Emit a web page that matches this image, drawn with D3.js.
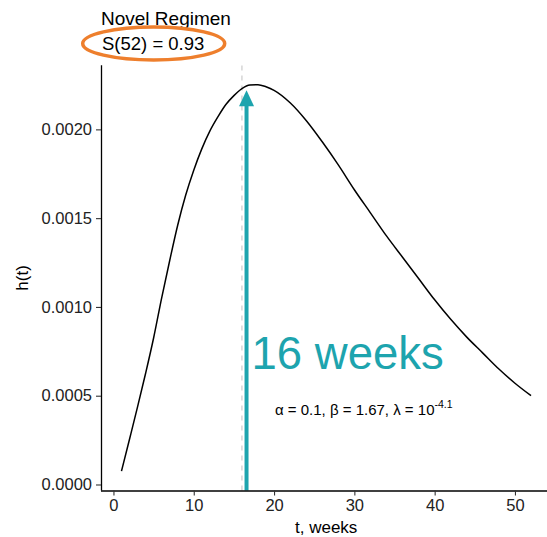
<!DOCTYPE html>
<html>
<head>
<meta charset="utf-8">
<script src="https://cdn.jsdelivr.net/npm/d3@7"></script>
<style>
  html, body { margin: 0; padding: 0; background: #fff; }
  svg { display: block; font-family: "Liberation Sans", Arial, Helvetica, sans-serif; }
</style>
</head>
<body>
<svg id="chart" width="547" height="537"></svg>
<script>
// Hazard curve h(t) over the first year, in weeks
const weeks  = [1, 2, 3, 4, 5, 6, 7, 8, 9, 10, 11, 12, 13, 14, 15, 16, 17, 18, 19, 20,
                22, 24, 26, 28, 30, 32, 34, 36, 38, 40, 42, 44, 46, 48, 50, 52];
const hazard = [0.000075, 0.000255, 0.000437, 0.000625, 0.000825, 0.00105, 0.00126, 0.00146,
                0.00163, 0.00177, 0.00189, 0.00199, 0.00207, 0.00214, 0.00219, 0.00223, 0.00225,
                0.002252, 0.00224, 0.00222,
                0.00215, 0.00205, 0.00193, 0.00180, 0.00166, 0.00153, 0.00140, 0.00128, 0.00116,
                0.00104, 0.00093, 0.00083, 0.00074, 0.00065, 0.00057, 0.00050];

const xTicks = [0, 10, 20, 30, 40, 50];
const yTicks = [0, 0.0005, 0.0010, 0.0015, 0.0020];

const markWeek = 16;          // highlighted week
const arrowTop = 0.00222;     // arrow tip height on h(t)
const titleText = "Novel Regimen";
const survivalText = "S(52) = 0.93";
const labelText = "16 weeks";

const teal = "#1DA4AE";
const orange = "#EE7F2D";

const svg = d3.select("#chart");

const tMin = d3.min(weeks), tMax = d3.max(weeks);
const tPad = (tMax - tMin) * 0.05;
const hMin = d3.min(hazard), hMax = d3.max(hazard);
const hPad = (hMax - hMin) * 0.05;

const x = d3.scaleLinear().domain([tMin - tPad, tMax + tPad]).range([101, 551.5]);
const y = d3.scaleLinear().domain([hMin - hPad, hMax + hPad]).range([490.5, 65.3]);

// dashed reference line at the highlighted week
svg.append("line")
  .attr("x1", x(markWeek)).attr("x2", x(markWeek))
  .attr("y1", y.range()[0]).attr("y2", y.range()[1])
  .attr("stroke", "#cfcfcf").attr("stroke-width", 1.3)
  .attr("stroke-dasharray", "5,5");

// hazard curve
const line = d3.line()
  .x((d, i) => x(weeks[i]))
  .y(d => y(d))
  .curve(d3.curveMonotoneX);
svg.append("path")
  .datum(hazard)
  .attr("d", line)
  .attr("fill", "none")
  .attr("stroke", "#000")
  .attr("stroke-width", 1.5);

// arrow pointing up to the curve
const ax = x(markWeek) + 4.6;
const tipY = y(arrowTop);
const headH = 16, headW = 15;
svg.append("line")
  .attr("x1", ax).attr("x2", ax)
  .attr("y1", y.range()[0]).attr("y2", tipY + headH - 1)
  .attr("stroke", teal).attr("stroke-width", 4);
svg.append("path")
  .attr("d", `M${ax},${tipY} L${ax + headW / 2},${tipY + headH} L${ax - headW / 2},${tipY + headH} Z`)
  .attr("fill", teal);

// axes
const xAxis = d3.axisBottom(x).tickValues(xTicks).tickSize(5).tickPadding(4).tickFormat(d3.format("d"));
const gx = svg.append("g").attr("transform", `translate(0,${y.range()[0]})`).call(xAxis);
const yAxis = d3.axisLeft(y).tickValues(yTicks).tickSize(5).tickPadding(4).tickFormat(d3.format(".4f"));
const gy = svg.append("g").attr("transform", `translate(${x.range()[0]},0)`).call(yAxis);

[gx, gy].forEach(g => {
  g.select(".domain").attr("stroke", "#000").attr("stroke-width", 1.3);
  g.selectAll(".tick line").attr("stroke", "#333").attr("stroke-width", 1.1);
  g.selectAll(".tick text").attr("fill", "#222").style("font-size", "16.5px")
    .style("font-family", "'Liberation Sans', Arial, sans-serif");
});
gx.select(".domain").attr("d", `M${x.range()[0]},0.5H${x.range()[1]}`);
gy.select(".domain").attr("d", `M0.5,${y.range()[0]}V${y.range()[1]}`);

// axis titles
svg.append("text")
  .attr("x", (x(0) + x(50)) / 2 + 12).attr("y", 533)
  .attr("text-anchor", "middle")
  .style("font-size", "17px").attr("fill", "#000")
  .text("t, weeks");
svg.append("text")
  .attr("transform", `translate(28,${(y.range()[0] + y.range()[1]) / 2}) rotate(-90)`)
  .attr("text-anchor", "middle")
  .style("font-size", "17px").attr("fill", "#000")
  .text("h(t)");

// title and survival annotation
svg.append("text")
  .attr("x", 101).attr("y", 24.5)
  .style("font-size", "19px").attr("fill", "#000")
  .text(titleText);
svg.append("text")
  .attr("x", 102).attr("y", 50)
  .style("font-size", "18.5px").attr("fill", "#000")
  .text(survivalText);
svg.append("ellipse")
  .attr("cx", 153.7).attr("cy", 43.5).attr("rx", 71).attr("ry", 16.5)
  .attr("fill", "none").attr("stroke", orange).attr("stroke-width", 3.5);

// highlighted week label
svg.append("text")
  .attr("x", ax + 5).attr("y", 369)
  .style("font-size", "45.5px").attr("fill", teal)
  .text(labelText);

// parameter note
const note = svg.append("text")
  .attr("x", 275).attr("y", 415)
  .style("font-size", "15px").attr("fill", "#000");
note.append("tspan").text("\u03B1 = 0.1, \u03B2 = 1.67, \u03BB = 10");
note.append("tspan").attr("dy", -7).style("font-size", "10.5px").text("-4.1");
</script>
</body>
</html>
